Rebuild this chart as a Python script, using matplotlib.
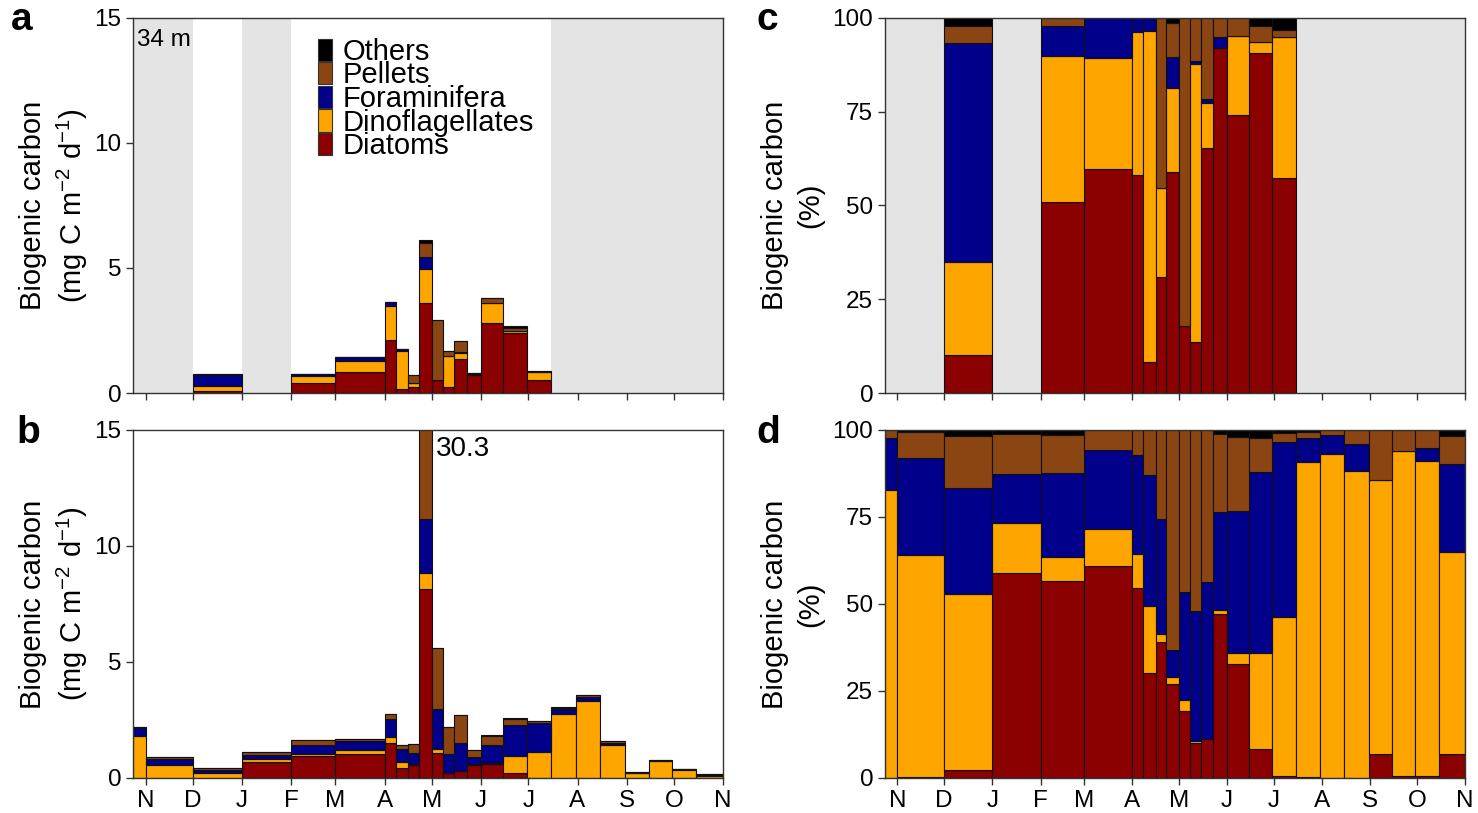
import numpy as np
import matplotlib.pyplot as plt
from matplotlib.patches import Patch

plt.rcParams['font.family'] = ['Liberation Sans', 'DejaVu Sans']
plt.rcParams['mathtext.fontset'] = 'custom'
plt.rcParams['mathtext.rm'] = 'Liberation Sans'
plt.rcParams['mathtext.it'] = 'Liberation Sans:italic'
plt.rcParams['mathtext.default'] = 'regular'

# x axis: days since 1 November
month_labels = ['N', 'D', 'J', 'F', 'M', 'A', 'M', 'J', 'J', 'A', 'S', 'O', 'N']
month_days = [0, 30, 61, 92, 120, 151, 181, 212, 242, 273, 304, 334, 365]
x_min, x_max = -8, 365

groups = ['Diatoms', 'Dinoflagellates', 'Foraminifera', 'Pellets', 'Others']
colors = ['#8b0000', '#ffa500', '#00008b', '#8b4513', '#000000']

# shallow trap (34 m), sampling periods
start_34 = [30, 92, 120, 151, 158, 166, 173, 181, 188, 195, 203, 212, 226, 241]
end_34 = [61, 120, 151, 158, 166, 173, 181, 188, 195, 203, 212, 226, 241, 256]
total_34 = [0.76, 0.77, 1.43, 3.63, 1.75, 0.74, 6.1, 2.9, 1.67, 2.07, 0.79, 3.79, 2.66, 0.9]
# composition (% of biogenic carbon)
diatoms_34 = [10.1, 51.0, 59.7, 58.0, 8.4, 30.8, 59.0, 17.9, 13.5, 65.2, 91.9, 74.0, 90.6, 57.2]
dino_34 = [24.7, 38.9, 29.5, 38.2, 88.0, 23.8, 22.2, 0.0, 74.2, 12.0, 0.0, 21.2, 3.0, 37.6]
foram_34 = [58.4, 8.0, 10.8, 3.8, 3.6, 0.0, 8.3, 0.0, 0.7, 1.1, 2.9, 0.0, 0.0, 0.0]
pellets_34 = [4.7, 2.1, 0.0, 0.0, 0.0, 45.4, 9.1, 82.1, 11.6, 21.7, 5.2, 4.8, 4.2, 2.0]
others_34 = [2.1, 0.0, 0.0, 0.0, 0.0, 0.0, 1.4, 0.0, 0.0, 0.0, 0.0, 0.0, 2.2, 3.2]

# deep trap, sampling period edges
edges_deep = [-8, 0, 30, 61, 92, 120, 151, 158, 166, 173, 181, 188, 195, 203,
              212, 226, 241, 256, 272, 287, 303, 318, 333, 348, 365]
total_deep = [2.21, 0.89, 0.42, 1.13, 1.64, 1.67, 2.76, 1.42, 1.47, 30.3, 5.59, 2.18,
              2.71, 1.21, 1.85, 2.6, 2.46, 3.05, 3.56, 1.59, 0.26, 0.78, 0.39, 0.16]
diatoms_deep = [0.0, 0.3, 2.4, 59.0, 56.5, 60.9, 54.7, 30.1, 39.0, 26.9, 19.3, 10.0,
                11.3, 47.0, 32.8, 8.4, 0.5, 0.3, 0.0, 0.0, 7.0, 0.5, 0.5, 7.0]
dino_deep = [82.8, 63.9, 50.5, 14.3, 7.1, 10.7, 9.8, 19.3, 2.3, 2.2, 3.1, 0.7,
             0.0, 1.2, 3.0, 27.4, 45.8, 90.4, 93.1, 88.2, 78.5, 93.4, 90.7, 57.8]
foram_deep = [14.9, 27.7, 30.5, 14.1, 24.0, 22.7, 28.3, 37.8, 33.2, 7.7, 31.1, 37.3,
              44.9, 28.2, 40.8, 51.9, 50.2, 7.0, 5.5, 7.8, 0.0, 0.0, 3.6, 25.3]
pellets_deep = [2.3, 7.6, 15.0, 11.5, 11.0, 5.7, 7.2, 12.8, 25.5, 63.2, 46.5, 52.0,
                43.8, 22.5, 21.5, 9.6, 2.6, 1.6, 1.4, 4.0, 14.5, 6.1, 5.2, 8.3]
others_deep = [0.0, 0.5, 1.6, 1.1, 1.4, 0.0, 0.0, 0.0, 0.0, 0.0, 0.0, 0.0,
               0.0, 1.1, 1.9, 2.3, 0.9, 0.7, 0.0, 0.0, 0.0, 0.0, 0.0, 1.6]


def no_sample_periods(start, end):
    # periods inside the axis range without any trap sample
    out = []
    pos = x_min
    for s, e in zip(start, end):
        if s > pos:
            out.append((pos, s))
        pos = max(pos, e)
    if pos < x_max:
        out.append((pos, x_max))
    return out


def draw_stack(ax, left, width, parts, total=None):
    parts = np.array(parts, dtype=float)
    pct = parts / parts.sum(axis=0) * 100
    values = pct if total is None else pct / 100 * np.array(total)
    bottom = np.zeros(len(left))
    for vals, col in zip(values, colors):
        ax.bar(left, vals, width, bottom=bottom, align='edge', color=col,
               edgecolor='#111111', linewidth=0.8, zorder=2)
        bottom += vals


def style_axis(ax, ymax, yticks, show_months):
    ax.set_xlim(x_min, x_max)
    ax.set_ylim(0, ymax)
    ax.set_yticks(yticks)
    ax.set_xticks(month_days)
    ax.set_xticklabels(month_labels if show_months else [])
    ax.tick_params(direction='out', length=5, width=1, labelsize=17.5, color='#333333')
    for sp in ax.spines.values():
        sp.set_color('#333333')
        sp.set_linewidth(1)
        sp.set_zorder(3)


fig = plt.figure(figsize=(14.78, 8.13), dpi=100)
ax_a = fig.add_axes([0.090, 0.5166, 0.3992, 0.4613])
ax_b = fig.add_axes([0.090, 0.0431, 0.3992, 0.4280])
ax_c = fig.add_axes([0.5988, 0.5166, 0.3924, 0.4613])
ax_d = fig.add_axes([0.5988, 0.0431, 0.3924, 0.4280])

parts_34 = [diatoms_34, dino_34, foram_34, pellets_34, others_34]
parts_deep = [diatoms_deep, dino_deep, foram_deep, pellets_deep, others_deep]
width_34 = np.array(end_34) - np.array(start_34)
left_deep = np.array(edges_deep[:-1])
width_deep = np.diff(edges_deep)

# grey = no sample in the 34 m trap
for ax in (ax_a, ax_c):
    for s, e in no_sample_periods(start_34, end_34):
        ax.axvspan(s, e, color='#e4e4e4', lw=0, zorder=0)

draw_stack(ax_a, start_34, width_34, parts_34, total_34)
draw_stack(ax_c, start_34, width_34, parts_34)
draw_stack(ax_b, left_deep, width_deep, parts_deep, total_deep)
draw_stack(ax_d, left_deep, width_deep, parts_deep)

style_axis(ax_a, 15, [0, 5, 10, 15], False)
style_axis(ax_b, 15, [0, 5, 10, 15], True)
style_axis(ax_c, 100, [0, 25, 50, 75, 100], False)
style_axis(ax_d, 100, [0, 25, 50, 75, 100], True)

flux_label = 'Biogenic carbon\n(mg C m$^{-2}$ d$^{-1}$)'
for ax in (ax_a, ax_b):
    ax.set_ylabel(flux_label, fontsize=21, linespacing=1.28, labelpad=3)
for ax in (ax_c, ax_d):
    ax.set_ylabel('Biogenic carbon\n(%)', fontsize=21, linespacing=1.33, labelpad=6)

ax_a.text(0.007, 0.97, '34 m', transform=ax_a.transAxes, ha='left', va='top', fontsize=17.5)

# value of the clipped bar
i_max = int(np.argmax(total_deep))
ax_b.annotate('%.1f' % total_deep[i_max], xy=(edges_deep[i_max + 1], 15), xytext=(3, -4),
              textcoords='offset points', ha='left', va='top', fontsize=20)

handles = [Patch(facecolor=c, edgecolor='#333333', linewidth=0.8) for c in colors][::-1]
ax_a.legend(handles, groups[::-1], loc='upper left', bbox_to_anchor=(0.313, 0.947),
            frameon=False, fontsize=21, handlelength=0.5, handleheight=0.8,
            handletextpad=0.35, labelspacing=-0.15, borderpad=0, borderaxespad=0)

for letter, x, y in [('a', 0.015, 0.975), ('b', 0.019, 0.468), ('c', 0.519, 0.975), ('d', 0.52, 0.468)]:
    fig.text(x, y, letter, fontsize=28, fontweight='bold', ha='center', va='center')

fig.savefig('out.png', dpi=100)
